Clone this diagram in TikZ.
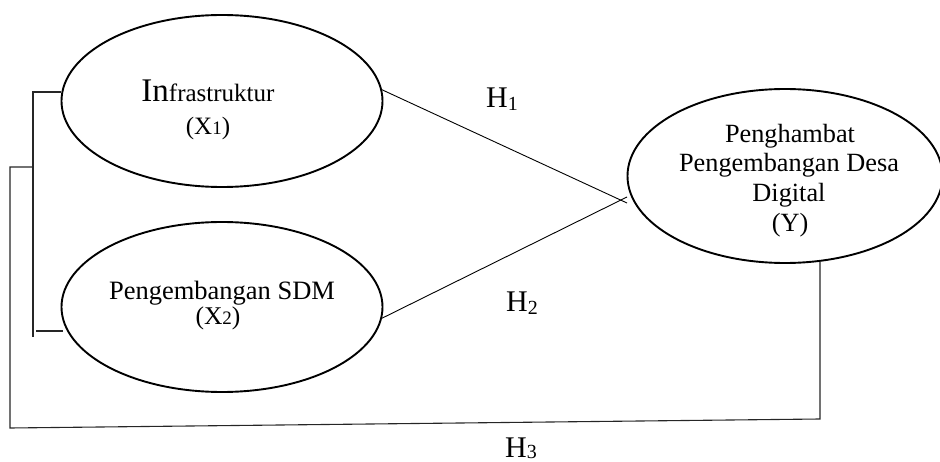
\documentclass[tikz,border=0pt]{standalone}
\usepackage{fontspec}
\setmainfont{Liberation Serif}
\usetikzlibrary{shapes.geometric}
\begin{document}
\begin{tikzpicture}[x=1pt,y=-1pt,
  oval/.style={ellipse,draw,line width=1.9pt,inner sep=0pt},
  conn/.style={line width=0.9pt},
  bracket/.style={line width=1.1pt,draw=black!85},
  txt/.style={inner sep=0pt,anchor=base,font=\fontsize{26.3}{30}\selectfont},
  hlbl/.style={inner sep=0pt,anchor=base west,font=\fontsize{30}{30}\selectfont}]
\useasboundingbox (0,0) rectangle (940,462);
% ellipses
\node[oval,minimum width=321pt,minimum height=172pt] (x1) at (222,101) {};
\node[oval,minimum width=321pt,minimum height=170pt] (x2) at (222,307) {};
\node[oval,minimum width=315pt,minimum height=174pt] (y) at (785,176) {};
% texts
\node[txt] (t1a) at (208,102) {{\fontsize{33}{33}\selectfont In}\fontsize{25}{30}\selectfont frastruktur};
\node[txt] (t1b) at (208,135) {\fontsize{25}{30}\selectfont (X{\fontsize{19}{19}\selectfont 1})};
\node[txt] (t2a) at (222,300) {\fontsize{26.5}{30}\selectfont Pengembangan SDM};
\node[txt] (t2b) at (218,325) {\fontsize{25.5}{30}\selectfont (X{\fontsize{19}{19}\selectfont 2})};
\node[txt] (t3a) at (790,143) {Penghambat};
\node[txt] (t3b) at (789,172) {Pengembangan Desa};
\node[txt] (t3c) at (789,202) {Digital};
\node[txt] (t3d) at (790,232) {(Y)};
% hypothesis labels
\node[hlbl] (h1) at (486,108) {H\raisebox{-2.5pt}{\fontsize{20}{20}\selectfont 1}};
\node[hlbl] (h2) at (506,312) {H\raisebox{-2.5pt}{\fontsize{20}{20}\selectfont 2}};
\node[hlbl] (h3) at (505,457) {H\raisebox{-1.5pt}{\fontsize{20}{20}\selectfont 3}};
% connectors H1, H2
\coordinate (j1) at (627,203);
\coordinate (j2) at (627,197);
\draw[conn] (x1.4) -- (j1);
\draw[conn] (x2.-4) -- (j2);
% inner bracket
\coordinate (b1) at (33,92);
\coordinate (b2) at (33,337);
\coordinate (b3) at (36,331);
\coordinate (bm) at (33,167);
\draw[bracket] (x1.west |- b1) -- (b1) -- (b2);
\draw[bracket] (b3) -- (63,331);
% outer H3 loop
\coordinate (o1) at (10,167);
\coordinate (o2) at (10,428);
\coordinate (o3) at (820,419);
\coordinate (yb) at (820,262);
\draw[bracket] (bm) -- (o1) -- (o2) -- (o3) -- (yb);
\end{tikzpicture}
\end{document}
